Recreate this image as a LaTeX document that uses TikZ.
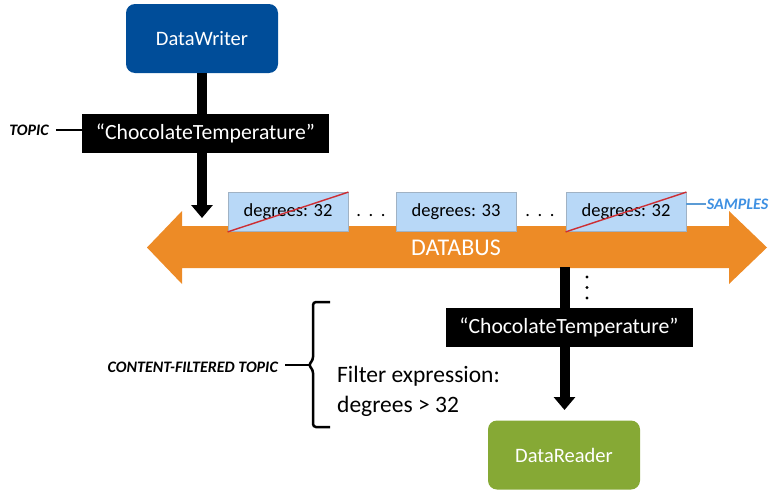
\documentclass[tikz,border=0pt]{standalone}
\usepackage{fontspec}
\setmainfont{Carlito}
\usetikzlibrary{arrows.meta}
\definecolor{dwblue}{RGB}{0,77,153}
\definecolor{drgreen}{RGB}{134,169,53}
\definecolor{busorange}{RGB}{237,139,38}
\definecolor{sampfill}{RGB}{184,216,247}
\definecolor{sampborder}{RGB}{160,178,196}
\definecolor{strike}{RGB}{205,45,50}
\definecolor{samptext}{RGB}{62,144,226}
\definecolor{sampline}{RGB}{91,155,213}
\begin{document}
\begin{tikzpicture}[x=1pt,y=-1pt,
  agent/.style={rectangle, rounded corners=9pt, minimum width=152pt, minimum height=69pt,
    text=white, font=\fontsize{20.5}{24}\selectfont, inner sep=0pt},
  topicbox/.style={rectangle, fill=black, text=white, minimum width=247pt, minimum height=39pt,
    font=\fontsize{21.7}{25}\selectfont, inner sep=0pt},
  sample/.style={rectangle, fill=sampfill, draw=sampborder, line width=0.8pt,
    minimum width=120pt, minimum height=39pt, font=\fontsize{18.5}{22}\selectfont, inner sep=0pt},
  flow/.style={line width=10pt, -{Triangle[width=21pt,length=13pt]}},
  tag/.style={font=\fontsize{16}{18}\selectfont\bfseries\itshape, inner sep=0pt},
  dots/.style={font=\fontsize{18.5}{22}\selectfont, inner sep=0pt},
  vdot/.style={circle, fill=black, inner sep=0pt, minimum size=3.2pt}
]
\useasboundingbox (0,0) rectangle (769,490);

% databus
\fill[busorange] (147,247.5) -- (182,211) -- (182,226) -- (729,226) -- (729,211) -- (767,247.5)
  -- (729,284) -- (729,268) -- (182,268) -- (182,284) -- cycle;
\node[font=\fontsize{24}{28}\selectfont, text=white, inner sep=0pt] (bus) at (456,248) {DATABUS};

% writer side
\node[agent, fill=dwblue] (dw) at (202,38.5) {DataWriter};
\coordinate (busin) at (202,218);
\draw[flow] (dw.south) -- (busin);
\node[topicbox] (t1) at (205.5,133.5) {“ChocolateTemperature”};

% topic label
\node[tag] (toplabel) at (29,130) {TOPIC};
\draw[line width=1.5pt, shorten <=7pt] (toplabel.east) -- (toplabel.east -| t1.west);

% samples
\node[sample] (s1) at (288,212) {degrees: 32};
\node[sample] (s2) at (456,212) {degrees: 33};
\node[sample] (s3) at (626,212) {degrees: 32};
\draw[strike, line width=1.4pt] (s1.south west) -- (s1.north east);
\draw[strike, line width=1.4pt] (s3.south west) -- (s3.north east);
\node[dots] (d1) at (371,216) {.\hspace{7.5pt}.\hspace{7.5pt}.};
\node[dots] (d2) at (540,216) {.\hspace{7.5pt}.\hspace{7.5pt}.};

% samples label
\node[tag, text=samptext] (samp) at (737.5,204) {SAMPLES};
\draw[sampline, line width=1.5pt] (samp.west -| s3.east) -- ([xshift=-1pt]samp.west);

% reader side
\coordinate (busout) at (564.5,267);
\node[agent, fill=drgreen] (dr) at (564,455) {DataReader};
\coordinate (rdin) at (564.5,410);
\draw[flow] (busout) -- (rdin);
\node[topicbox] (t2) at (569,327.5) {“ChocolateTemperature”};
\node[vdot] (v1) at (587,277) {};
\node[vdot] (v2) at (587,287.5) {};
\node[vdot] (v3) at (587,298) {};

% content filtered topic
\draw[line width=2.5pt, rounded corners=3pt] (330,302) -- (313,302) -- (313,360) -- (308.5,365)
  -- (313,370) -- (313,427) -- (330,427);
\coordinate (bracetip) at (309,365);
\node[tag, anchor=east] (cft) at (278,367) {CONTENT-FILTERED TOPIC};
\draw[line width=2pt, shorten <=7pt] (cft.east |- bracetip) -- (bracetip);
\node[anchor=west, align=left, inner sep=0pt, font=\fontsize{23.5}{30}\selectfont] (fx) at (337,391)
  {Filter expression:\\degrees > 32};
\end{tikzpicture}
\end{document}
